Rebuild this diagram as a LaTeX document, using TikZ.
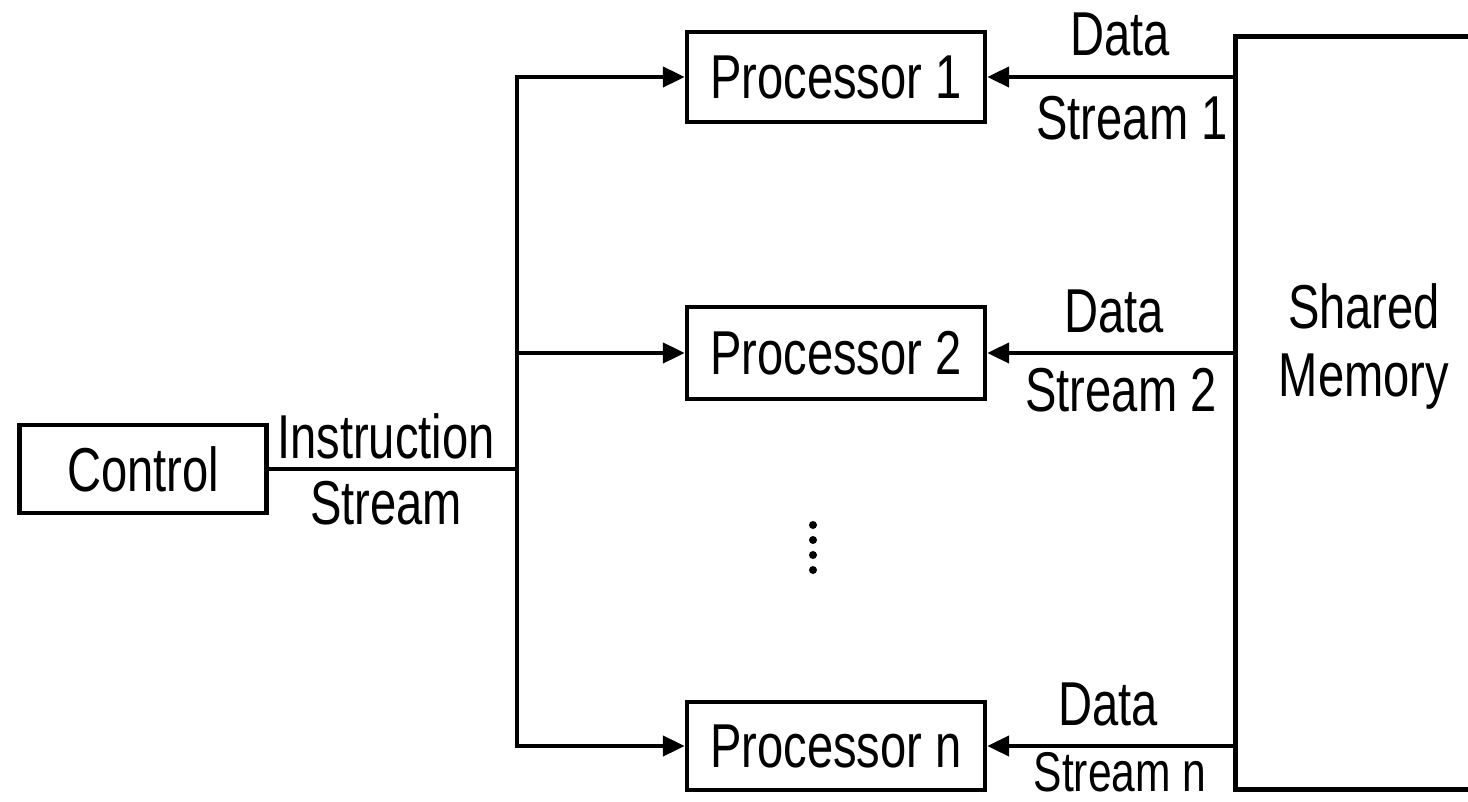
\documentclass[tikz,border=0pt]{standalone}
\usepackage{fontspec}
\setmainfont[FakeStretch = 0.76]{Liberation Sans}
\usetikzlibrary{arrows.meta}
\tikzset{
    box/.style = {draw, line width = 2.2pt, inner sep = 0pt},
    flow/.style = {-{Triangle[length = 11pt, width = 10pt]}, line width = 2.2pt},
}
\begin{document}
\begin{tikzpicture}[x = 0.5pt, y = -0.5pt, line width = 2.2pt]
        \useasboundingbox (0,0) rectangle (1468,802);
        \begin{scope}[font = \fontsize{31}{36}\selectfont]
            \node [box, minimum width = 123.5pt, minimum height = 44pt] (ctrl) at (143,469) {Control};
            \node [box, minimum width = 149pt, minimum height = 45pt] (p1) at (836,77) {Processor 1};
            \node [box, minimum width = 149pt, minimum height = 46pt] (p2) at (836,353) {Processor 2};
            \node [box, minimum width = 149pt, minimum height = 44pt] (pn) at (836,746) {Processor n};
            \node [box, minimum width = 132.5pt, minimum height = 376.5pt] (mem) at (1368,413) {};
            \node [align = center] (memtext) at (1364,346) {Shared\\[-2pt]Memory};
            \node [] (instr) at (386,436) {Instruction};
            \node [] (istream) at (386,503) {Stream};
            \node [] (d1) at (1120,34) {Data};
            \node [] (s1) at (1132,118) {Stream 1};
            \node [] (d2) at (1114,311) {Data};
            \node [] (s2) at (1121,390) {Stream 2};
            \node [] (dn) at (1108,704) {Data};
            \node [inner sep = 0pt, font = \fontsize{28}{32}\selectfont] (sn) at (1120,772) {Stream n};
        \end{scope}
        % instruction bus
        \coordinate (bus) at (517,469);
        \draw (ctrl.east) -- (bus);
        \draw [flow] (bus) |- (p1.west);
        \draw [flow] (bus) |- (p2.west);
        \draw [flow] (bus) |- (pn.west);
        % data streams
        \draw [flow] (p1.east -| mem.west) -- (p1.east);
        \draw [flow] (p2.east -| mem.west) -- (p2.east);
        \draw [flow] (pn.east -| mem.west) -- (pn.east);
        \foreach \y in {525,540,555,570}
            \fill (813,\y) circle (4);
    \end{tikzpicture}
\end{document}
